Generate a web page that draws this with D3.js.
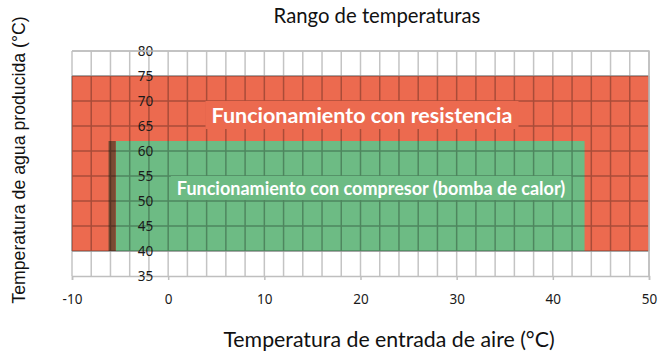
<!DOCTYPE html>
<html>
<head>
<meta charset="utf-8">
<script src="https://cdn.jsdelivr.net/npm/d3@7"></script>
<style>
  body { margin: 0; background: #fff; }
  svg { display: block; }
</style>
</head>
<body>
<svg width="662" height="356"></svg>
<script>
// axis ranges and ticks
const xDomain = [-10, 50];
const yDomain = [35, 80];
const xTicks = [-10, 0, 10, 20, 30, 40, 50];
const yTicks = [35, 40, 45, 50, 55, 60, 65, 70, 75, 80];
const xGrid = d3.range(-10, 51, 2);
const yGrid = [40, 45, 50, 55, 60, 65, 70, 75, 80];

// operating zones: [xMin, xMax, yMin, yMax]
const zoneNames = ["Funcionamiento con resistencia", "Funcionamiento con compresor (bomba de calor)"];
const resistencia = [-10, 50, 40, 75];
const compresor = [-5.45, 43.3, 40, 62];
const limite = [-6.2, -5.45, 40, 62];   // dark edge at the left of compressor zone

const width = 662, height = 356;
const svg = d3.select("svg");

const x = d3.scaleLinear().domain(xDomain).range([72, 649]);
const y = d3.scaleLinear().domain(yDomain).range([276, 51]);

function zoneRect(z, fill) {
    svg.append("rect")
        .attr("x", x(z[0]))
        .attr("y", y(z[3]))
        .attr("width", x(z[1]) - x(z[0]))
        .attr("height", y(z[2]) - y(z[3]))
        .attr("fill", fill);
}

// grid on white
const grid = svg.append("g");
grid.selectAll("line.v").data(xGrid).join("line")
    .attr("x1", d => x(d)).attr("x2", d => x(d))
    .attr("y1", y(80)).attr("y2", y(35))
    .attr("stroke", "#c4c4c4").attr("stroke-width", 1.5);
grid.selectAll("line.h").data(yGrid).join("line")
    .attr("x1", x(-10)).attr("x2", x(50))
    .attr("y1", d => y(d)).attr("y2", d => y(d))
    .attr("stroke", "#c4c4c4").attr("stroke-width", 1.5);

zoneRect(resistencia, "#ec6a4f");
zoneRect(compresor, "#6dbb84");
zoneRect(limite, "#7a4a33");

// darker grid over the zones
const zg = svg.append("g").attr("opacity", 0.28);
zg.selectAll("line.v").data(xGrid).join("line")
    .attr("x1", d => x(d)).attr("x2", d => x(d))
    .attr("y1", y(resistencia[3])).attr("y2", y(resistencia[2]))
    .attr("stroke", "#000").attr("stroke-width", 1.5);
zg.selectAll("line.h").data(yGrid.filter(d => d >= 40 && d <= 75)).join("line")
    .attr("x1", x(-10)).attr("x2", x(50))
    .attr("y1", d => y(d)).attr("y2", d => y(d))
    .attr("stroke", "#000").attr("stroke-width", 1.5);

// x axis
const xAxis = svg.append("g")
    .attr("transform", `translate(0,${y(35)})`)
    .call(d3.axisBottom(x).tickValues(xTicks).tickFormat(d => String(d)).tickSize(4).tickPadding(14));
xAxis.select(".domain").attr("stroke", "#bfbfbf").attr("stroke-width", 1.5);
xAxis.selectAll(".tick line").attr("stroke", "#bfbfbf").attr("stroke-width", 1.5);
xAxis.selectAll("text").attr("font-family", "Noto Sans").attr("font-size", 13.5).attr("fill", "#1a1a1a");

// y axis crosses at x = 0
const yAxis = svg.append("g")
    .attr("transform", `translate(${x(0)},0)`)
    .call(d3.axisLeft(y).tickValues(yTicks).tickFormat(d => String(d)).tickSize(0).tickPadding(15));
yAxis.select(".domain").remove();
yAxis.selectAll("text").attr("font-family", "Noto Sans").attr("font-size", 13.5).attr("fill", "#1a1a1a");

// plot border (top/right)
svg.append("path")
    .attr("d", `M${x(-10)},${y(80)}H${x(50)}V${y(35)}`)
    .attr("fill", "none").attr("stroke", "#bfbfbf").attr("stroke-width", 1.5);

// zone labels with background boxes
function zoneLabel(text, cx, cy, size, bg) {
    const g = svg.append("g");
    const t = g.append("text")
        .attr("x", cx).attr("y", cy)
        .attr("text-anchor", "middle").attr("dominant-baseline", "central")
        .attr("font-family", "Lato").attr("font-weight", "bold")
        .attr("font-size", size).attr("fill", "#fff")
        .text(text);
    const b = t.node().getBBox();
    g.insert("rect", "text")
        .attr("x", b.x - 6).attr("y", b.y - 1)
        .attr("width", b.width + 12).attr("height", b.height + 2)
        .attr("fill", bg);
}
zoneLabel(zoneNames[0], 362, 115, 21.5, "#ec6a4f");
zoneLabel(zoneNames[1], 371, 188, 18, "#6dbb84");

// titles
svg.append("text")
    .attr("x", 377).attr("y", 23)
    .attr("text-anchor", "middle")
    .attr("font-family", "Lato").attr("font-size", 20.3).attr("fill", "#111")
    .text("Rango de temperaturas");

svg.append("text")
    .attr("x", 389).attr("y", 347)
    .attr("text-anchor", "middle")
    .attr("font-family", "Lato").attr("font-size", 21.3).attr("fill", "#111")
    .text("Temperatura de entrada de aire (°C)");

svg.append("text")
    .attr("transform", "translate(25,160) rotate(-90)")
    .attr("text-anchor", "middle")
    .attr("font-family", "Liberation Sans").attr("font-size", 17.7).attr("fill", "#111")
    .text("Temperatura de agua producida (°C)");
</script>
</body>
</html>
